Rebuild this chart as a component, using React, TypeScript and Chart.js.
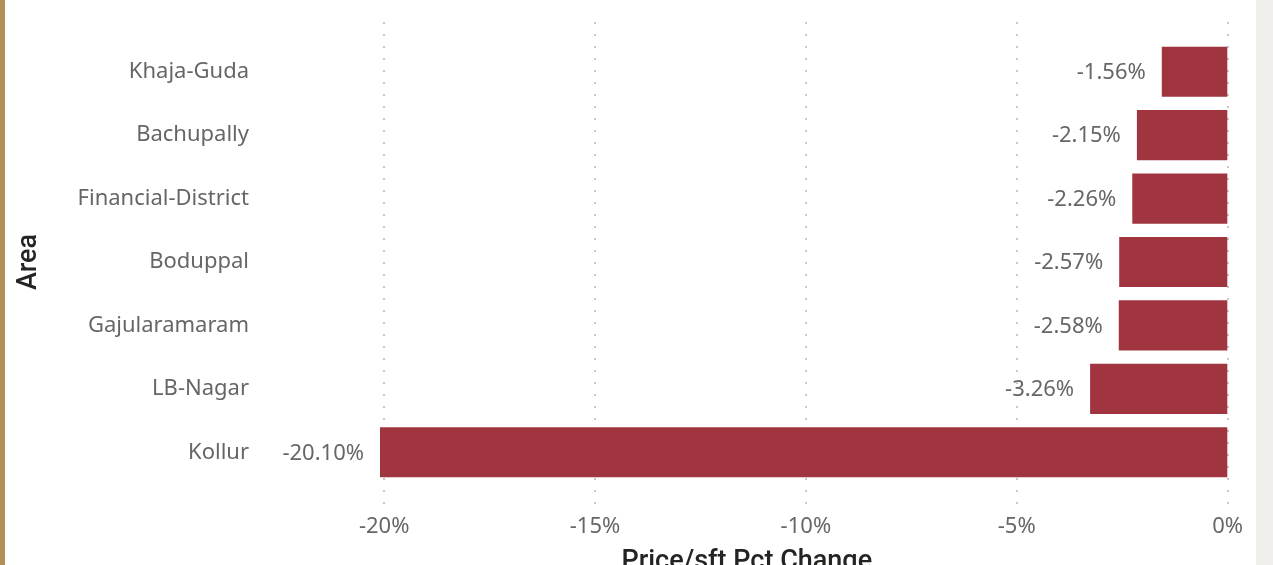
import React, { useEffect, useRef } from "react";
import { Chart, registerables } from "chart.js";

Chart.register(...registerables);

const areas: string[] = [
  "Khaja-Guda",
  "Bachupally",
  "Financial-District",
  "Boduppal",
  "Gajularamaram",
  "LB-Nagar",
  "Kollur",
];
const pctChange: number[] = [-1.56, -2.15, -2.26, -2.57, -2.58, -3.26, -20.1];
const xTickValues: number[] = [-20, -15, -10, -5, 0];
const xTitle = "Price/sft Pct Change";
const yTitle = "Area";

const BAR_COLOR = "#A0343F";
const TEXT_COLOR = "#666666";
const TITLE_COLOR = "#252423";
const FONT = "'Noto Sans', 'Open Sans', sans-serif";
const TITLE_FONT = "Roboto, 'Noto Sans', sans-serif";

const dottedGrid = {
  id: "dottedGrid",
  beforeDatasetsDraw(chart: any) {
    const { ctx, chartArea, scales } = chart;
    const x = scales.x;
    ctx.save();
    ctx.strokeStyle = "#C8C8C8";
    ctx.lineWidth = 2;
    ctx.setLineDash([2, 10]);
    for (const v of xTickValues) {
      const px = Math.round(x.getPixelForValue(v));
      ctx.beginPath();
      ctx.moveTo(px, chartArea.top - 18);
      ctx.lineTo(px, chartArea.bottom + 22);
      ctx.stroke();
    }
    ctx.restore();
  },
};

const dataLabels = {
  id: "dataLabels",
  afterDatasetsDraw(chart: any) {
    const { ctx } = chart;
    const meta = chart.getDatasetMeta(0);
    const ds = chart.data.datasets[0];
    ctx.save();
    ctx.font = `22px ${FONT}`;
    ctx.fillStyle = TEXT_COLOR;
    ctx.textAlign = "right";
    ctx.textBaseline = "middle";
    meta.data.forEach((bar: any, i: number) => {
      const v = ds.data[i] as number;
      ctx.fillText(v.toFixed(2) + "%", bar.x - 16, bar.y + 1);
    });
    ctx.restore();
  },
};

// x-axis title, centred on the visual (slightly left of the plot centre)
const xAxisTitle = {
  id: "xAxisTitle",
  afterDraw(chart: any) {
    const { ctx, chartArea } = chart;
    ctx.save();
    ctx.font = `500 27px ${TITLE_FONT}`;
    ctx.fillStyle = TITLE_COLOR;
    ctx.textAlign = "center";
    ctx.textBaseline = "alphabetic";
    ctx.fillText(xTitle, (chartArea.left + chartArea.right) / 2 - 57, chartArea.bottom + 85);
    ctx.restore();
  },
};

export default function App() {
  const ref = useRef<HTMLCanvasElement | null>(null);

  useEffect(() => {
    document.body.style.margin = "0";
    document.body.style.overflow = "hidden";
    const canvas = ref.current!;
    const chart = new Chart(canvas, {
      type: "bar",
      data: {
        labels: areas,
        datasets: [
          {
            data: pctChange,
            backgroundColor: BAR_COLOR,
            borderWidth: 0,
            categoryPercentage: 0.79,
            barPercentage: 1,
          },
        ],
      },
      options: {
        indexAxis: "y",
        animation: false,
        responsive: false,
        maintainAspectRatio: false,
        layout: { padding: { top: 40, right: 45, left: 0, bottom: 0 } },
        plugins: {
          legend: { display: false },
          tooltip: { enabled: false },
        },
        scales: {
          x: {
            type: "linear",
            min: -20.1,
            max: 0,
            afterBuildTicks(scale: any) {
              scale.ticks = xTickValues.map((v) => ({ value: v }));
            },
            afterFit(scale: any) {
              scale.height = 106;
            },
            grid: { display: false, drawTicks: false },
            border: { display: false },
            ticks: {
              padding: 30,
              color: TEXT_COLOR,
              font: { family: FONT, size: 22 },
              maxRotation: 0,
              callback: (v: any) => `${v}%`,
            },
            title: { display: false, text: xTitle },
          },
          y: {
            afterFit(scale: any) {
              scale.width = 380;
              scale.paddingTop = 0;
              scale.paddingBottom = 0;
            },
            grid: { display: false, drawTicks: false },
            border: { display: false },
            ticks: {
              padding: 131,
              color: TEXT_COLOR,
              font: { family: FONT, size: 22 },
            },
            title: {
              display: true,
              text: yTitle,
              color: TITLE_COLOR,
              font: { family: TITLE_FONT, size: 27, weight: 500 as any },
              padding: { top: 13, bottom: 0 },
            },
          },
        },
      },
      plugins: [dottedGrid, dataLabels, xAxisTitle],
    });
    return () => chart.destroy();
  }, []);

  return (
    <div
      style={{
        position: "fixed",
        left: 0,
        top: 0,
        width: 1273,
        height: 565,
        background: "#FFFFFF",
        overflow: "hidden",
      }}
    >
      <canvas
        ref={ref}
        width={1273}
        height={590}
        style={{ position: "absolute", left: 0, top: 0, width: 1273, height: 590 }}
      />
      <div
        style={{
          position: "absolute",
          left: 0,
          top: 0,
          width: 5,
          height: 565,
          background: "#B38F57",
        }}
      />
      <div
        style={{
          position: "absolute",
          left: 1256,
          top: 0,
          width: 17,
          height: 565,
          background: "#F0EFEC",
        }}
      />
    </div>
  );
}
